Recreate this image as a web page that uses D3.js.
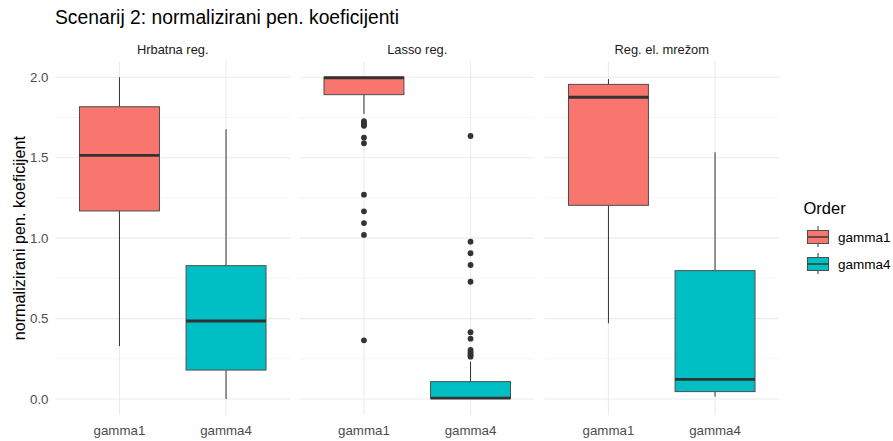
<!DOCTYPE html>
<html><head><meta charset="utf-8">
<script src="https://cdn.jsdelivr.net/npm/d3@7"></script>
<style>
body{margin:0;background:#fff;}
text{font-family:"Liberation Sans",Arial,sans-serif;}
</style></head>
<body><svg id="c" width="893" height="441"></svg>
<script>
const panels = ["Hrbatna reg.", "Lasso reg.", "Reg. el. mrežom"];
const categories = ["gamma1", "gamma4"];
const colors = ["#F8766D", "#00BFC4"];
const yTicks = [0, 0.5, 1, 1.5, 2];
const yMinor = [0.25, 0.75, 1.25, 1.75];
// [lowerWhisker, Q1, median, Q3, upperWhisker] per panel, per category
const statsGamma1 = [
  [0.329, 1.169, 1.515, 1.817, 2.0],
  [1.772, 1.892, 1.997, 2.0, 2.0],
  [0.471, 1.204, 1.876, 1.956, 1.989]
];
const statsGamma4 = [
  [0.0, 0.180, 0.485, 0.829, 1.677],
  [0.0, 0.004, 0.006, 0.108, 0.232],
  [0.015, 0.046, 0.122, 0.798, 1.534]
];
const outliersGamma1 = [
  [],
  [1.727, 1.717, 1.707, 1.698, 1.625, 1.590, 1.270, 1.167, 1.094, 1.020, 0.365],
  []
];
const outliersGamma4 = [
  [],
  [1.635, 0.978, 0.906, 0.833, 0.729, 0.415, 0.375, 0.305, 0.293, 0.282, 0.272, 0.263],
  []
];

const svg = d3.select("#c");
const panelW = 234.5, gap = 10, left0 = 55.5, plotTop = 61.2, plotBottom = 415.1;
const y = d3.scaleLinear().domain([-0.1, 2.1]).range([plotBottom, plotTop]);

svg.append("text").attr("x", 55).attr("y", 23.5).attr("font-size", 19.3).attr("fill", "#000")
  .text("Scenarij 2: normalizirani pen. koeficijenti");

svg.append("text").attr("transform", `translate(24.5,${(plotTop + plotBottom) / 2}) rotate(-90)`)
  .attr("text-anchor", "middle").attr("font-size", 16.2).attr("fill", "#000")
  .text("normalizirani pen. koeficijent");

svg.append("g").selectAll("text").data(yTicks).join("text")
  .attr("x", 48.5).attr("y", d => y(d)).attr("dy", "0.35em").attr("text-anchor", "end")
  .attr("font-size", 13.3).attr("fill", "#4D4D4D").text(d => d3.format(".1f")(d));

const allStats = [statsGamma1, statsGamma4];
const allOut = [outliersGamma1, outliersGamma4];

panels.forEach((p, pi) => {
  const x0 = left0 + pi * (panelW + gap);
  // discrete scale with 0.6 expansion
  const xc = d3.scaleLinear().domain([0.4, 2.6]).range([x0, x0 + panelW]);
  const unit = panelW / 2.2;
  const g = svg.append("g");
  g.selectAll(".mn").data(yMinor).join("line")
    .attr("x1", x0).attr("x2", x0 + panelW).attr("y1", d => y(d)).attr("y2", d => y(d))
    .attr("stroke", "#F2F2F2").attr("stroke-width", 0.8);
  g.selectAll(".mj").data(yTicks).join("line")
    .attr("x1", x0).attr("x2", x0 + panelW).attr("y1", d => y(d)).attr("y2", d => y(d))
    .attr("stroke", "#EBEBEB").attr("stroke-width", 1.1);
  g.selectAll(".vx").data(categories).join("line")
    .attr("x1", (d, i) => xc(i + 1)).attr("x2", (d, i) => xc(i + 1)).attr("y1", plotTop).attr("y2", plotBottom)
    .attr("stroke", "#EBEBEB").attr("stroke-width", 1.1);
  svg.append("text").attr("x", x0 + panelW / 2).attr("y", 54).attr("text-anchor", "middle")
    .attr("font-size", 12.9).attr("fill", "#1A1A1A").text(p);
  svg.append("g").selectAll("text").data(categories).join("text")
    .attr("x", (d, i) => xc(i + 1)).attr("y", 435).attr("text-anchor", "middle")
    .attr("font-size", 13.3).attr("fill", "#4D4D4D").text(d => d);

  categories.forEach((c, ci) => {
    const s = allStats[ci][pi];
    const cx = xc(ci + 1);
    const hw = unit * 0.75 / 2;
    g.append("line").attr("x1", cx).attr("x2", cx).attr("y1", y(s[3])).attr("y2", y(s[4]))
      .attr("stroke", "#333").attr("stroke-width", 1);
    g.append("line").attr("x1", cx).attr("x2", cx).attr("y1", y(s[1])).attr("y2", y(s[0]))
      .attr("stroke", "#333").attr("stroke-width", 1);
    g.append("rect").attr("x", cx - hw).attr("width", 2 * hw)
      .attr("y", y(s[3])).attr("height", y(s[1]) - y(s[3]))
      .attr("fill", colors[ci]).attr("stroke", "#4D4D4D").attr("stroke-width", 1);
    g.append("line").attr("x1", cx - hw).attr("x2", cx + hw).attr("y1", y(s[2])).attr("y2", y(s[2]))
      .attr("stroke", "#333").attr("stroke-width", 2.8);
    g.selectAll(".o" + ci).data(allOut[ci][pi]).join("circle")
      .attr("cx", cx).attr("cy", d => y(d)).attr("r", 2.9).attr("fill", "#333");
  });
});

const lg = svg.append("g");
lg.append("text").attr("x", 803.5).attr("y", 213.5).attr("font-size", 16.5).attr("fill", "#000").text("Order");
categories.forEach((c, i) => {
  const ky = 229 + i * 27;
  lg.append("line").attr("x1", 818).attr("x2", 818).attr("y1", ky - 3).attr("y2", ky + 18)
    .attr("stroke", "#333").attr("stroke-width", 1);
  lg.append("rect").attr("x", 807.5).attr("y", ky + 1.5).attr("width", 21).attr("height", 13)
    .attr("fill", colors[i]).attr("stroke", "#4D4D4D").attr("stroke-width", 1);
  lg.append("line").attr("x1", 807.5).attr("x2", 828.5).attr("y1", ky + 8).attr("y2", ky + 8)
    .attr("stroke", "#333").attr("stroke-width", 1.4);
  lg.append("text").attr("x", 838).attr("y", ky + 8).attr("dy", "0.35em").attr("font-size", 13.5)
    .attr("fill", "#000").text(c);
});
</script></body></html>
